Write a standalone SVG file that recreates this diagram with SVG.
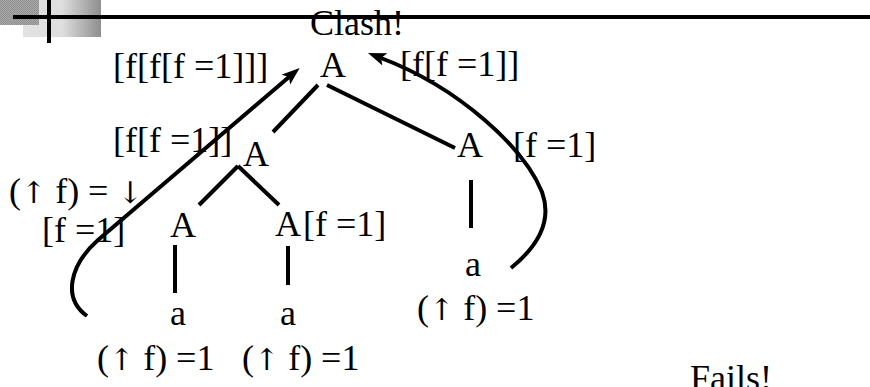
<svg xmlns="http://www.w3.org/2000/svg" width="870" height="387" viewBox="0 0 870 387">
<style>
  text { font-family: "Liberation Serif", "Times New Roman", serif; font-size: 36px; fill: #000; }
  .ar { font-family: "DejaVu Serif", "Liberation Serif", serif; font-size: 30px; }
  .edge { stroke: #000; stroke-width: 4; fill: none; }
  .arc { stroke: #000; stroke-width: 4; fill: none; marker-end: url(#ah); }
</style>
<defs>
  <linearGradient id="grad" x1="0" y1="0" x2="1" y2="0">
    <stop offset="0" stop-color="#e2e2e2"/>
    <stop offset="0.5" stop-color="#dedede"/>
    <stop offset="1" stop-color="#8e8e8e"/>
  </linearGradient>
  <pattern id="dither" width="2" height="2" patternUnits="userSpaceOnUse">
    <rect width="2" height="2" fill="#aaaaaa"/>
    <rect width="1" height="1" fill="#8e8e8e"/>
    <rect x="1" y="1" width="1" height="1" fill="#8e8e8e"/>
  </pattern>
  <marker id="ah" markerUnits="userSpaceOnUse" viewBox="0 0 18 13" markerWidth="18" markerHeight="13" refX="4" refY="6.5" orient="auto">
    <path d="M0,0 L18,6.5 L0,13 L4,6.5 z" fill="#000"/>
  </marker>
</defs>

<g id="header">
  <rect x="23" y="0" width="78" height="37" fill="url(#grad)"/>
  <rect x="0" y="0" width="39" height="25" fill="url(#dither)"/>
  <rect x="13" y="15" width="857" height="4" fill="#000"/>
  <rect x="47" y="0" width="4" height="43" fill="#000"/>
</g>

<g id="connectors">
  <line class="edge" x1="318" y1="85" x2="273" y2="132"/>
  <line class="edge" x1="327" y1="85" x2="455" y2="148"/>
  <line class="edge" x1="238" y1="166" x2="199" y2="205"/>
  <line class="edge" x1="238" y1="166" x2="279" y2="205"/>
  <line class="edge" x1="175" y1="245" x2="175" y2="293"/>
  <line class="edge" x1="288" y1="246" x2="288" y2="285"/>
  <line class="edge" x1="471" y1="180" x2="471" y2="228"/>
  <path class="arc" d="M87,316 C62,298 70,265 98,240 L289,77"/>
  <path class="arc" d="M511,268 C537,247 553,222 542,192 C524,148 460,88 381,58"/>
</g>

<g id="root"><text x="320" y="77">A</text></g>
<g id="clash"><text x="310" y="35">Clash!</text></g>
<g id="root-left-label"><text x="113" y="78">[f[f[f =1]]]</text></g>
<g id="root-right-label"><text x="400" y="76">[f[f =1]]</text></g>

<g id="mid-left"><text x="243" y="166">A</text></g>
<g id="mid-left-label"><text x="113" y="152">[f[f =1]]</text></g>
<g id="mid-right"><text x="457" y="157">A</text></g>
<g id="mid-right-label"><text x="513" y="157">[f =1]</text></g>

<g id="annot-down"><text x="9" y="203">(<tspan class="ar">↑</tspan> f) = <tspan class="ar">↓</tspan></text></g>
<g id="leaf-left-label"><text x="42" y="242">[f =1]</text></g>
<g id="leaf-left"><text x="170" y="237">A</text></g>
<g id="leaf-mid"><text x="275" y="236">A</text></g>
<g id="leaf-mid-label"><text x="303" y="236">[f =1]</text></g>

<g id="a-left"><text x="170" y="325">a</text></g>
<g id="a-mid"><text x="280" y="325">a</text></g>
<g id="a-right"><text x="465" y="276">a</text></g>

<g id="eq-right"><text x="417" y="320">(<tspan class="ar">↑</tspan> f) =1</text></g>
<g id="eq-left"><text x="97" y="370">(<tspan class="ar">↑</tspan> f) =1</text></g>
<g id="eq-mid"><text x="242" y="370">(<tspan class="ar">↑</tspan> f) =1</text></g>

<g id="fails"><text x="690" y="390">Fails!</text></g>
</svg>
